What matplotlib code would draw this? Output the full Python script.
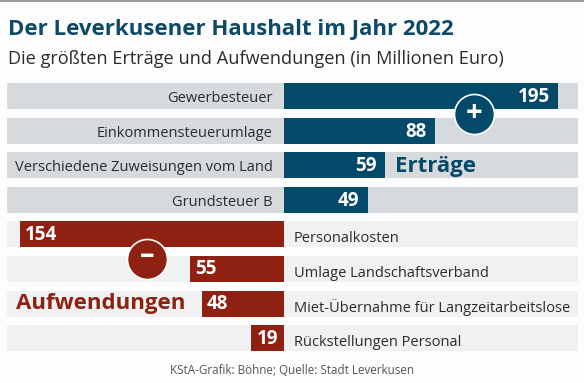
import matplotlib
matplotlib.use("Agg")
import matplotlib.pyplot as plt

# Values as printed on the chart
income_labels = ["Gewerbesteuer", "Einkommensteuerumlage", "Verschiedene Zuweisungen vom Land", "Grundsteuer B"]
income_values = [195, 88, 59, 49]
# the 195 bar is cut short in the original, this is its drawn length
income_lengths = [160, 88, 59, 49]

expense_labels = ["Personalkosten", "Umlage Landschaftsverband", "Miet-Übernahme für Langzeitarbeitslose", "Rückstellungen Personal"]
expense_values = [154, 55, 48, 19]

BLUE = "#02496A"
RED = "#8F2113"
GREY_ROW = "#D6DADD"
LIGHT_ROW = "#F0F1F2"
TEXT = "#2B2B2B"

plt.rcParams["font.family"] = ["Open Sans", "DejaVu Sans"]

px_per_unit = 1.715
zero_px = 284
row_pitch = 34.6
first_row_px = 96

fig = plt.figure(figsize=(5.84, 3.83), dpi=100, facecolor="#FDFDFD")
ax = fig.add_axes([0, 0, 1, 1])
ax.set_xlim(-zero_px / px_per_unit, (584 - zero_px) / px_per_unit)
ax.set_ylim((383 - first_row_px) / row_pitch, -first_row_px / row_pitch)
ax.axis("off")

row_left = (7.5 - zero_px) / px_per_unit
row_width = (578 - 7.5) / px_per_unit
bar_h = 26 / row_pitch

n_inc = len(income_values)
inc_y = list(range(n_inc))
exp_y = [n_inc + i for i in range(len(expense_values))]

ax.barh(inc_y, [row_width] * n_inc, left=row_left, height=bar_h, color=GREY_ROW)
ax.barh(exp_y, [row_width] * len(exp_y), left=row_left, height=bar_h, color=LIGHT_ROW)
ax.barh(inc_y, income_lengths, height=bar_h, color=BLUE)
ax.barh(exp_y, [-v for v in expense_values], height=bar_h, color=RED)

for y, name, val, length in zip(inc_y, income_labels, income_values, income_lengths):
    ax.text(-6.5, y + 0.07, name, ha="right", va="center", fontsize=10.5, color=TEXT)
    ax.text(length - 5, y + 0.03, str(val), ha="right", va="center", fontsize=13.5,
            fontweight="bold", color="white")

for y, name, val in zip(exp_y, expense_labels, expense_values):
    ax.text(5.8, y + 0.12, name, ha="left", va="center", fontsize=10.5, color=TEXT)
    ax.text(-val + 3, y + 0.01, str(val), ha="left", va="center", fontsize=13.5,
            fontweight="bold", color="white")

# Big words and the plus/minus badges
ax.text(65, 2.03, "Erträge", ha="left", va="center", fontsize=16, fontweight="bold", color=BLUE)
ax.text(-156, 6, "Aufwendungen", ha="left", va="center", fontsize=16, fontweight="bold", color=RED)

ax.scatter([111], [0.52], s=830, color=BLUE, edgecolor="white", linewidth=1.2, zorder=5)
ax.text(111, 0.5, "+", ha="center", va="center", fontsize=21, fontweight="bold", color="white", zorder=6)
ax.scatter([-80], [4.7], s=830, color=RED, edgecolor="white", linewidth=1.2, zorder=5)
ax.text(-80, 4.62, "–", ha="center", va="center", fontsize=21, fontweight="bold", color="white", zorder=6)

# Header and footer
ax.axhline(-first_row_px / row_pitch + 0.02, color="#9A9A9A", lw=1.5)
fig.text(8 / 584, 1 - 29 / 383, "Der Leverkusener Haushalt im Jahr 2022", ha="left", va="center",
         fontsize=16, fontweight="bold", color="#0E4A68")
fig.text(8 / 584, 1 - 59 / 383, "Die größten Erträge und Aufwendungen (in Millionen Euro)", ha="left", va="center",
         fontsize=13.1, color=TEXT)
fig.text(292 / 584, 1 - 370 / 383, "KStA-Grafik: Böhne; Quelle: Stadt Leverkusen", ha="center", va="center",
         fontsize=8.4, color="#555555")

fig.savefig("out.png", dpi=100, facecolor=fig.get_facecolor())
